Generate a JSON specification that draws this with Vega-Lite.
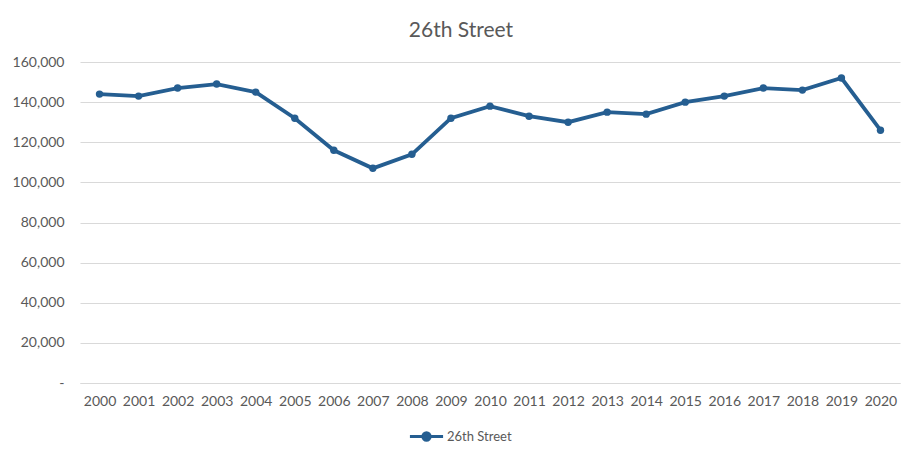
{
  "$schema": "https://vega.github.io/schema/vega-lite/v6.json",
  "width": 820,
  "height": 321,
  "autosize": {"type": "none"},
  "padding": {"left": 80, "top": 62, "right": 23, "bottom": 78},
  "background": "white",
  "config": {
    "view": {"stroke": null},
    "font": "Lato",
    "axis": {"labelColor": "#595959", "labelFont": "Lato", "labelFontSize": 14}
  },
  "title": {
    "text": "26th Street",
    "anchor": "middle",
    "dx": -29,
    "offset": 14,
    "fontSize": 21,
    "font": "Lato",
    "fontWeight": "normal",
    "color": "#595959"
  },
  "data": {
    "values": [
      {"year": "2000", "value": 144000, "series": "26th Street"},
      {"year": "2001", "value": 143000, "series": "26th Street"},
      {"year": "2002", "value": 147000, "series": "26th Street"},
      {"year": "2003", "value": 149000, "series": "26th Street"},
      {"year": "2004", "value": 145000, "series": "26th Street"},
      {"year": "2005", "value": 132000, "series": "26th Street"},
      {"year": "2006", "value": 116000, "series": "26th Street"},
      {"year": "2007", "value": 107000, "series": "26th Street"},
      {"year": "2008", "value": 114000, "series": "26th Street"},
      {"year": "2009", "value": 132000, "series": "26th Street"},
      {"year": "2010", "value": 138000, "series": "26th Street"},
      {"year": "2011", "value": 133000, "series": "26th Street"},
      {"year": "2012", "value": 130000, "series": "26th Street"},
      {"year": "2013", "value": 135000, "series": "26th Street"},
      {"year": "2014", "value": 134000, "series": "26th Street"},
      {"year": "2015", "value": 140000, "series": "26th Street"},
      {"year": "2016", "value": 143000, "series": "26th Street"},
      {"year": "2017", "value": 147000, "series": "26th Street"},
      {"year": "2018", "value": 146000, "series": "26th Street"},
      {"year": "2019", "value": 152000, "series": "26th Street"},
      {"year": "2020", "value": 126000, "series": "26th Street"}
    ]
  },
  "encoding": {
    "x": {
      "field": "year",
      "type": "ordinal",
      "scale": {"type": "point", "padding": 0.5},
      "axis": {
        "title": null,
        "labelAngle": 0,
        "ticks": false,
        "domain": true,
        "domainColor": "#d9d9d9",
        "labelPadding": 11
      }
    },
    "y": {
      "field": "value",
      "type": "quantitative",
      "scale": {"domain": [0, 160000], "nice": false},
      "axis": {
        "title": null,
        "values": [0, 20000, 40000, 60000, 80000, 100000, 120000, 140000, 160000],
        "labelExpr": "datum.value == 0 ? '-\u00a0\u00a0\u00a0\u00a0\u00a0\u00a0\u00a0\u00a0\u00a0' : format(datum.value, ',')",
        "ticks": false,
        "domain": false,
        "gridColor": "#d9d9d9",
        "labelPadding": 16
      }
    },
    "color": {
      "field": "series",
      "type": "nominal",
      "scale": {"range": ["#255e91"]},
      "legend": {
        "title": null,
        "orient": "none",
        "legendX": 328,
        "legendY": 356,
        "symbolType": "M-1,0H1M-0.22,0A0.22,0.22,0,1,0,0.22,0A0.22,0.22,0,1,0,-0.22,0",
        "symbolSize": 1100,
        "symbolStrokeWidth": 3,
        "symbolFillColor": "#255e91",
        "symbolStrokeColor": "#255e91",
        "labelFontSize": 13,
        "labelColor": "#595959",
        "labelOffset": 2
      }
    }
  },
  "layer": [
    {"mark": {"type": "line", "strokeWidth": 3.8}},
    {"mark": {"type": "point", "filled": true, "size": 55, "opacity": 1}}
  ]
}
